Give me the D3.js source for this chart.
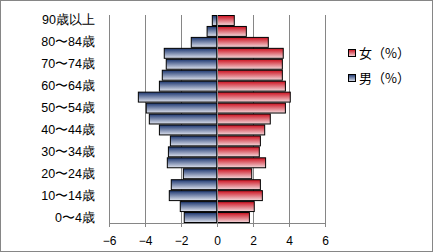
<!DOCTYPE html>
<html>
<head>
<meta charset="utf-8">
<script src="https://cdn.jsdelivr.net/npm/d3@7"></script>
<style>
  body { margin: 0; background: #fff; }
  svg { display: block; font-family: "Noto Sans CJK JP", sans-serif; }
</style>
</head>
<body>
<svg id="chart"></svg>
<script>
const ageGroups = ['0〜4歳', '5〜9歳', '10〜14歳', '15〜19歳', '20〜24歳', '25〜29歳', '30〜34歳',
  '35〜39歳', '40〜44歳', '45〜49歳', '50〜54歳', '55〜59歳', '60〜64歳', '65〜69歳',
  '70〜74歳', '75〜79歳', '80〜84歳', '85〜89歳', '90歳以上'];
const maleValues = [-1.82, -2.04, -2.65, -2.54, -1.87, -2.76, -2.7, -2.59, -3.2, -3.76,
  -3.93, -4.37, -3.2, -3.04, -2.82, -2.93, -1.43, -0.55, -0.26];
const femaleValues = [1.8, 2.07, 2.52, 2.41, 1.93, 2.7, 2.35, 2.41, 2.65, 2.96,
  3.8, 4.07, 3.8, 3.63, 3.63, 3.68, 2.85, 1.63, 0.96];
const xTicks = [-6, -4, -2, 0, 2, 4, 6];
const seriesNames = ['女（%）', '男（%）'];

const width = 433, height = 252;
const margin = { top: 15, left: 109, right: 108, bottom: 29 };
const plotW = width - margin.left - margin.right;
const plotH = height - margin.top - margin.bottom;

const svg = d3.select('#chart').attr('width', width).attr('height', height);

// outer frame
svg.append('rect')
  .attr('x', 0.5).attr('y', 0.5)
  .attr('width', width - 1).attr('height', height - 1)
  .attr('fill', '#fff').attr('stroke', '#868686');

const defs = svg.append('defs');
const grad = (id, dark, light) => {
  const g = defs.append('linearGradient').attr('id', id)
    .attr('x1', 0).attr('y1', 0).attr('x2', 0).attr('y2', 1);
  g.append('stop').attr('offset', '0%').attr('stop-color', dark);
  g.append('stop').attr('offset', '100%').attr('stop-color', light);
};
grad('gMale', '#1c3670', '#dfe3ee');
grad('gFemale', '#cc0f1e', '#f3d9dc');

const xScale = d3.scaleLinear().domain([-6, 6]).range([0, plotW]);
const yScale = d3.scaleBand().domain(ageGroups.slice().reverse()).range([0, plotH]).padding(0);

const g = svg.append('g').attr('transform', `translate(${margin.left},${margin.top})`);

// gridlines
g.selectAll('.grid')
  .data(xTicks.filter(d => d !== 0))
  .enter().append('line')
  .attr('x1', d => Math.round(xScale(d)) + 0.5)
  .attr('x2', d => Math.round(xScale(d)) + 0.5)
  .attr('y1', 0).attr('y2', plotH)
  .attr('stroke', '#868686');

const drawBars = (values, fill) => {
  g.append('g').selectAll('rect')
    .data(values)
    .enter().append('rect')
    .attr('x', d => xScale(Math.min(0, d)))
    .attr('y', (d, i) => yScale(ageGroups[i]) + 0.5)
    .attr('width', d => Math.abs(xScale(d) - xScale(0)))
    .attr('height', yScale.bandwidth() - 1)
    .attr('fill', fill)
    .attr('stroke', '#000')
    .attr('stroke-width', 1);
};
drawBars(maleValues, 'url(#gMale)');
drawBars(femaleValues, 'url(#gFemale)');

// zero line
g.append('line')
  .attr('x1', Math.round(xScale(0)) + 0.5).attr('x2', Math.round(xScale(0)) + 0.5)
  .attr('y1', 0).attr('y2', plotH)
  .attr('stroke', '#868686');

// x axis
const xAxis = g.append('g')
  .attr('transform', `translate(0,${plotH})`)
  .call(d3.axisBottom(xScale).tickValues(xTicks).tickSize(4).tickSizeOuter(0));
xAxis.select('.domain').attr('stroke', '#868686');
xAxis.selectAll('.tick line').attr('stroke', '#868686');
xAxis.selectAll('text').attr('font-size', 12).attr('fill', '#000').attr('dy', '1.25em')
  .attr('font-family', '"Liberation Sans", sans-serif');

// y axis labels every other category
const yAxis = g.append('g')
  .call(d3.axisLeft(yScale).tickSize(0).tickPadding(14)
    .tickValues(ageGroups.filter((d, i) => i % 2 === 0)));
yAxis.select('.domain').attr('stroke', '#868686');
yAxis.selectAll('text').attr('font-size', 12.5).attr('fill', '#000');

// legend
const legend = svg.append('g')
  .selectAll('g')
  .data(seriesNames)
  .enter().append('g')
  .attr('transform', (d, i) => `translate(348,${49 + i * 25})`);
legend.append('rect')
  .attr('x', 0.5).attr('y', 0.5).attr('width', 7).attr('height', 7)
  .attr('fill', (d, i) => i === 0 ? 'url(#gFemale)' : 'url(#gMale)')
  .attr('stroke', '#000');
legend.append('text')
  .attr('x', 11).attr('y', 4).attr('dy', '0.35em')
  .attr('font-size', 13)
  .text(d => d);
</script>
</body>
</html>
